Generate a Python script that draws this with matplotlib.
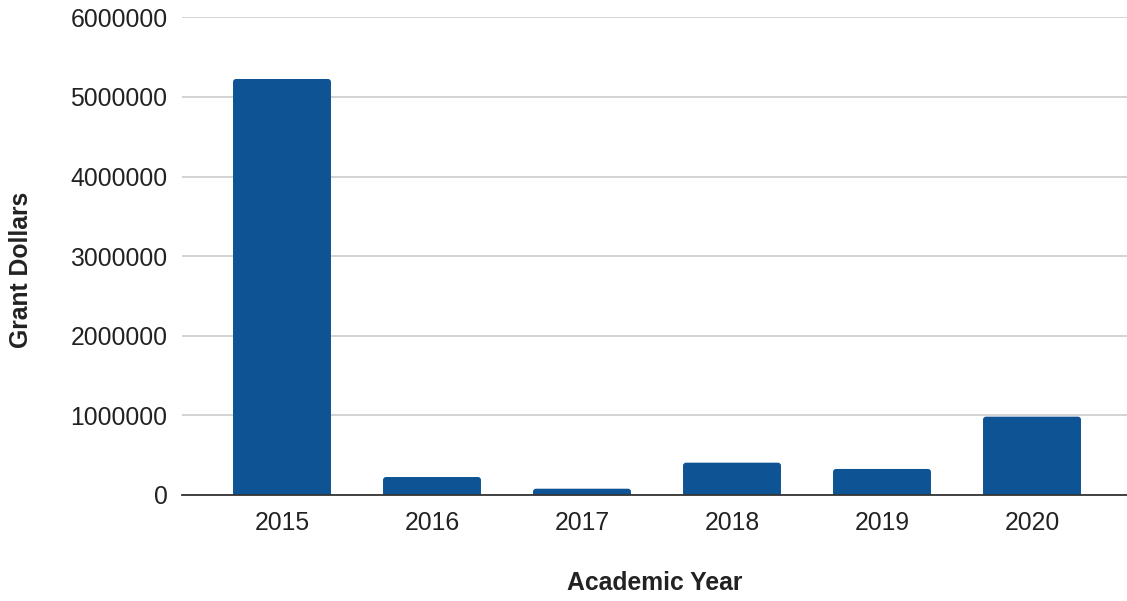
import matplotlib
matplotlib.use("Agg")
import matplotlib.pyplot as plt
from matplotlib.patches import FancyBboxPatch

years = ["2015", "2016", "2017", "2018", "2019", "2020"]
grant_dollars = [5225000, 226000, 79000, 406000, 327000, 984000]
y_ticks = [0, 1000000, 2000000, 3000000, 4000000, 5000000, 6000000]

plt.rcParams['font.family'] = ['Liberation Sans', 'DejaVu Sans']

W, H = 1127, 601
FS = 17.8
fig = plt.figure(figsize=(W / 100, H / 100), dpi=100)
ax = fig.add_axes([182 / W, (H - 495) / H, (1127 - 182) / W, (495 - 17.3) / H])

x = list(range(len(years)))
bars = ax.bar(x, grant_dollars, width=0.653, color="#0E5394", zorder=3)

ax.set_xlim(-0.5 - 25 / 150, len(years) - 0.5 + 20 / 150)
ax.set_ylim(0, 6000000)

# rounded top corners (~3 px radius)
px_per_x = 150.0
px_per_y = (495 - 17.3) / 6000000
r_x = 3.0 / px_per_x
aspect = (3.0 / px_per_y) / r_x
for b in bars:
    b.set_visible(False)
    bx, by = b.get_x(), b.get_y()
    bw, bh = b.get_width(), b.get_height()
    ext = 3.0 / px_per_y
    p = FancyBboxPatch((bx + r_x, by - ext + r_x * aspect), bw - 2 * r_x,
                       bh + ext - 2 * r_x * aspect,
                       boxstyle=f"round,pad={r_x},rounding_size={r_x}",
                       mutation_aspect=aspect, facecolor="#0E5394",
                       edgecolor="none", zorder=3)
    ax.add_patch(p)

ax.set_yticks(y_ticks)
ax.set_yticklabels([str(v) for v in y_ticks])
ax.set_xticks(x)
ax.set_xticklabels(years)

ax.grid(axis="y", color="#cccccc", linewidth=1.2, zorder=0)
ax.grid(axis="x", visible=False)
for s in ["top", "right", "left"]:
    ax.spines[s].set_visible(False)
ax.spines["bottom"].set_color("#333333")
ax.spines["bottom"].set_linewidth(1.3)
ax.spines["bottom"].set_zorder(4)
ax.tick_params(axis="both", length=0, labelsize=FS, colors="#222222")
ax.tick_params(axis="y", pad=10.5)
ax.tick_params(axis="x", pad=11.5)

fig.text(655 / W, 1 - 583 / H, "Academic Year", ha="center", va="center",
         fontsize=FS, fontweight="bold", color="#222222")
fig.text(21 / W, 1 - 270 / H, "Grant Dollars", ha="center", va="center",
         rotation=90, fontsize=FS, fontweight="bold", color="#222222")

fig.savefig("out.png", dpi=100, facecolor="white")
